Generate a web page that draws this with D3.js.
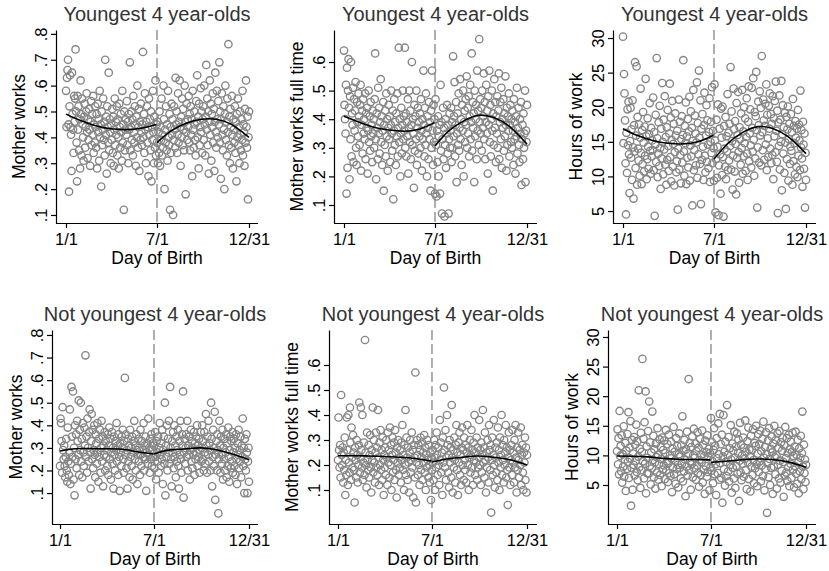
<!DOCTYPE html>
<html>
<head>
<meta charset="utf-8">
<script src="https://cdn.jsdelivr.net/npm/d3@7"></script>
<style>
body{margin:0;background:#fff;}
svg text{font-family:"Liberation Sans",Arial,sans-serif;}
</style>
</head>
<body>
<div id="viz"></div>
<script>
// x axis: day of birth (1 = Jan 1, 365 = Dec 31), cutoff at Jul 1
var xTickDays = [1, 182, 365];
var xTickLabels = ["1/1", "7/1", "12/31"];
var cutoffDay = 182;

var titles = ["Youngest 4 year-olds", "Youngest 4 year-olds", "Youngest 4 year-olds",
	"Not youngest 4 year-olds", "Not youngest 4 year-olds", "Not youngest 4 year-olds"];
var yTitles = ["Mother works", "Mother works full time", "Hours of work",
	"Mother works", "Mother works full time", "Hours of work"];
var yTicksWorks = [0.1, 0.2, 0.3, 0.4, 0.5, 0.6, 0.7, 0.8];
var yTicksFull = [0.1, 0.2, 0.3, 0.4, 0.5, 0.6];
var yTicksHours = [5, 10, 15, 20, 25, 30];

// daily means, Jan..Dec, one row per month (percent)
var youngWorks = [
58,44,63,66,70,45,19,52,64,44,41,27,65,49,43,34,56,46,55,74,50,38,23,56,43,52,35,47,28,62,49,
33,55,45,40,31,48,53,36,44,50,57,42,32,47,39,51,43,29,46,54,37,49,41,56,34,45,38,52,
44,36,49,28,53,42,47,31,58,40,45,21,50,37,43,55,39,46,33,70,41,48,26,52,44,38,65,35,47,42,30,
45,39,51,34,48,29,43,55,37,46,41,52,33,47,40,28,53,44,36,49,42,31,58,38,45,12,50,35,43,47,
41,54,37,46,30,49,43,69,35,44,50,39,47,33,56,42,38,52,45,29,48,40,60,36,44,51,27,46,39,53,42,
37,45,73,40,49,34,57,43,30,46,52,38,44,25,55,41,47,35,50,23,44,39,58,42,30,48,36,62,33,45,
38,46,30,42,34,50,29,44,39,55,33,41,36,60,47,20,43,38,52,35,45,31,58,40,37,49,12,44,34,53,41,
47,10,39,52,43,36,63,45,50,34,41,57,38,46,62,44,29,48,40,55,37,51,43,35,60,46,18,42,53,39,47,
44,56,38,49,35,52,41,47,25,58,43,36,50,45,39,33,54,46,64,40,48,28,53,37,44,59,42,50,34,47,
52,39,60,45,33,48,68,43,55,37,50,26,46,62,41,53,31,49,44,57,38,51,27,46,65,42,36,58,47,40,54,
45,69,38,50,24,47,57,41,35,52,43,20,49,60,39,46,33,55,42,76,37,48,30,51,44,36,56,41,28,47,
43,38,52,34,46,23,49,40,55,37,44,30,50,41,35,47,39,58,33,45,42,29,51,38,62,44,36,48,16,40,50
];
var youngFull = [
64,45,40,35,52,14,58,23,50,61,44,19,48,33,60,27,42,38,51,25,47,36,43,53,30,24,46,39,34,49,41,
31,45,52,22,38,43,28,47,35,40,33,49,26,42,37,44,21,36,50,32,41,29,46,34,38,25,43,35,
40,30,47,63,33,19,42,37,26,51,35,44,28,39,54,32,41,24,36,46,15,38,31,43,27,49,34,40,22,37,45,
33,41,25,38,50,35,29,43,12,36,47,31,39,24,42,34,49,27,37,65,32,40,20,35,44,28,38,50,33,41,
36,65,30,42,27,39,34,47,21,37,50,32,43,26,38,60,31,40,35,16,45,29,41,33,50,24,37,44,28,39,34,
42,30,47,36,22,40,33,57,38,27,44,31,49,35,20,41,37,26,46,33,39,15,43,30,57,36,24,45,32,40,
14,47,31,13,36,25,41,20,34,38,14,52,29,39,7,33,44,26,37,6,31,40,23,35,45,28,38,7,33,42,30,
36,44,25,39,30,62,34,41,53,27,38,46,18,35,42,31,49,29,37,54,33,40,24,45,36,50,20,39,43,32,47,
38,55,30,44,35,48,27,41,52,33,39,63,29,46,37,42,18,50,34,40,45,26,57,36,43,31,68,39,47,35,
44,29,50,37,41,56,33,46,26,39,52,35,43,21,48,38,57,32,45,27,40,50,36,15,42,31,54,37,46,25,41,
35,48,30,43,56,26,39,46,33,51,23,40,37,47,29,42,34,55,38,22,44,31,41,36,49,27,38,45,32,40,
30,43,36,24,47,33,39,21,41,34,51,28,37,44,31,25,40,35,46,17,33,38,26,42,30,35,50,18,36,32,45
];
// hours per week
var youngHours = [
30.2,14.8,24.8,22.0,18.1,11.9,4.5,16.3,10.5,19.7,14.5,20.8,13.2,7.6,15.1,19.9,12.7,16.8,9.5,21.0,14.2,6.8,17.4,13.6,26.5,11.2,15.9,25.9,8.8,18.6,14.0,
12.3,17.5,10.1,15.6,22.7,13.4,8.9,16.7,11.8,19.3,14.9,10.7,17.2,13.0,24.1,15.8,9.6,12.5,18.4,14.3,11.1,16.1,20.6,13.7,10.4,17.0,12.9,15.2,
13.8,21.4,10.9,16.4,4.3,14.6,18.9,12.1,27.1,15.5,9.9,13.3,17.8,11.5,20.2,14.1,8.2,16.9,12.6,23.5,15.0,10.3,18.2,13.9,21.6,11.7,15.7,8.8,17.1,12.4,19.6,
14.4,10.8,16.2,23.4,12.8,18.5,9.3,15.3,20.9,11.4,14.7,17.6,8.7,13.5,19.1,15.9,10.6,12.2,16.6,5.2,14.0,21.1,11.0,17.9,13.1,9.0,15.4,18.7,12.0,16.0,
26.8,13.6,10.1,17.3,14.8,20.7,8.9,15.8,12.7,18.3,11.3,16.5,21.5,9.4,14.5,19.4,12.9,17.0,5.8,15.1,22.5,10.9,13.8,18.8,16.2,11.6,14.9,23.6,9.8,17.7,13.2,
25.3,15.6,11.8,21.0,6.0,16.9,12.4,19.0,14.3,9.5,17.4,22.1,13.0,10.6,15.9,20.3,12.1,18.1,14.6,11.2,16.4,21.3,9.2,15.0,17.9,13.4,22.9,11.9,16.6,14.1,
9.4,23.3,15.2,4.8,12.5,18.2,9.8,14.3,20.4,4.4,11.6,16.9,13.2,7.5,19.8,15.6,10.2,20.1,12.8,4.2,17.3,14.0,11.4,18.6,9.6,15.8,13.6,21.9,10.9,16.3,12.3,
17.6,14.4,25.8,11.0,19.4,15.1,8.1,13.0,22.7,16.8,10.7,18.0,14.7,7.4,20.6,12.7,16.0,22.2,13.5,9.1,17.1,15.4,11.7,19.1,14.1,22.5,10.4,16.5,12.9,20.0,14.8,
18.4,10.8,15.7,21.3,13.3,9.5,17.9,23.0,12.2,16.2,19.7,14.5,11.3,22.8,17.0,13.6,24.2,15.3,10.1,19.3,12.6,18.7,25.1,16.7,5.5,14.2,20.8,17.4,12.0,22.3,
15.9,19.9,11.6,27.4,16.4,13.8,21.1,18.1,12.4,17.3,20.5,14.6,23.3,10.9,18.9,15.5,12.8,20.2,16.9,22.0,14.0,19.0,11.9,17.6,13.1,21.6,9.6,18.4,15.8,20.9,13.5,
23.7,16.6,12.1,19.5,4.7,17.8,14.4,21.7,11.0,18.2,15.0,23.8,8.0,16.1,20.3,13.3,17.1,10.5,19.2,14.9,5.3,18.6,12.5,16.8,20.1,9.4,15.4,17.6,11.8,14.3,
19.0,13.7,16.4,8.8,21.2,12.2,17.3,14.8,10.3,18.0,15.6,11.4,16.9,9.9,19.6,13.0,17.5,15.2,10.9,22.4,14.2,16.7,12.6,8.5,17.9,14.6,11.1,16.2,5.5,13.4,9.5
];
var olderWorks = [
22,43,41,33,19,48,29,25,31,22,17,26,34,20,15,39,24,18,28,47,14,23,57,35,26,55,16,30,9,40,25,
36,21,42,33,27,51,18,38,29,50,24,34,17,41,28,22,39,31,71,26,35,19,43,30,24,37,47,28,
12,33,45,25,38,21,29,40,27,17,36,32,23,41,28,15,34,26,38,19,30,42,24,35,13,31,27,37,20,33,26,
29,22,36,18,31,39,25,34,16,28,37,23,30,12,35,27,20,33,29,41,24,31,18,36,26,11,32,28,22,35,
30,38,25,19,33,61,27,36,21,29,12,34,24,31,17,38,26,30,22,35,16,28,33,42,25,31,20,36,29,14,27,
34,24,30,18,38,27,22,33,29,26,41,20,31,25,35,11,28,32,23,43,27,30,19,34,25,36,22,29,32,26,
31,21,37,26,16,33,28,24,35,19,30,41,27,22,32,25,38,14,29,35,23,50,9,31,26,40,20,34,28,42,23,
57,30,25,13,33,28,37,21,40,26,31,17,35,24,29,38,22,12,33,27,42,25,19,36,31,55,8,28,34,23,30,
36,26,42,20,31,27,35,16,29,38,24,33,21,30,27,37,18,32,25,35,28,40,22,31,26,34,19,29,37,24,
30,40,25,33,20,37,28,23,45,31,19,35,27,42,24,32,29,20,50,34,13,26,38,22,30,46,7,27,33,20,36,
29,1,25,42,31,19,35,27,23,38,16,30,25,34,20,28,36,17,32,22,39,26,15,29,35,21,33,24,37,19,
28,34,22,30,18,36,25,14,32,27,38,21,29,24,35,17,31,26,43,22,30,10,34,25,20,36,28,10,24,30,15
];
var olderFull = [
22,39,26,19,28,15,48,24,20,27,13,25,18,31,8,22,16,39,26,12,40,21,17,43,29,14,35,23,19,32,25,
18,5,27,22,15,30,24,13,20,28,45,17,23,43,26,19,40,14,21,29,16,70,25,20,11,33,22,18,
28,15,24,32,19,9,26,22,43,17,30,21,13,25,33,19,27,16,42,23,12,29,20,34,18,26,14,31,22,8,24,
19,27,16,30,23,12,33,21,26,15,35,20,28,10,24,31,17,22,29,14,34,25,18,7,27,21,30,16,23,19,
26,13,29,22,36,18,24,10,28,20,42,16,31,23,14,27,21,9,25,30,17,22,33,19,26,7,28,23,15,57,5,
21,30,24,16,28,20,12,26,31,18,23,29,14,25,21,32,17,27,10,24,19,30,22,15,28,20,13,25,6,23,
18,26,21,14,30,23,10,28,19,33,24,16,27,20,12,38,22,29,17,25,8,31,21,51,26,19,34,14,23,40,28,
17,24,11,30,21,27,15,44,23,9,26,19,31,22,13,28,36,18,25,8,29,21,33,16,24,12,27,35,20,26,14,
31,22,18,28,13,25,36,20,27,10,23,30,17,24,34,19,26,12,29,22,40,16,25,21,31,14,27,19,23,38,
20,26,12,29,17,24,42,21,27,15,33,22,9,25,19,30,23,13,36,26,18,28,1,22,31,16,24,38,20,11,27,
23,17,29,14,35,21,26,10,31,19,24,40,16,28,22,13,30,20,25,36,15,27,18,4,23,33,19,26,12,22,
28,16,34,21,25,13,30,19,36,23,9,27,18,33,22,15,26,20,35,12,24,28,17,10,25,21,31,14,27,9,24
];
var olderHours = [
10.7,14.4,8.5,12.9,6.8,17.5,9.9,11.6,7.3,13.4,5.4,10.2,8.1,14.9,6.4,9.3,12.1,4.0,10.8,7.7,13.6,8.9,17.3,6.2,11.3,9.5,15.8,1.5,7.9,12.6,4.2,
10.3,8.4,13.1,6.6,11.8,9.1,15.2,7.2,12.4,5.8,9.8,21.0,8.0,11.1,4.5,13.8,7.5,10.6,26.3,9.0,12.8,6.1,15.6,8.6,20.8,3.6,11.5,7.0,
9.6,14.1,6.9,19.1,8.2,12.2,5.1,10.5,7.8,17.4,9.2,13.3,6.3,11.0,8.8,4.4,12.0,9.7,7.1,14.6,10.1,5.9,8.5,12.7,6.7,11.4,9.4,4.8,13.0,7.6,10.9,
8.3,12.5,6.0,10.4,14.3,7.4,9.0,11.9,5.5,8.7,13.5,7.0,10.0,6.5,12.3,9.5,3.8,11.2,8.0,14.8,6.8,10.6,9.1,5.2,12.9,7.7,11.6,8.4,4.6,10.2,
13.7,7.9,9.8,6.1,11.7,8.6,16.6,5.6,10.8,7.3,12.6,9.3,3.1,11.0,8.1,14.0,6.6,10.3,22.9,7.5,12.1,9.0,4.2,11.4,8.5,13.2,6.3,10.0,14.5,7.8,9.6,
12.0,5.9,10.7,8.3,13.9,7.0,11.3,4.7,9.2,12.8,6.7,10.1,8.8,14.2,5.4,11.8,7.6,9.9,3.5,12.5,8.2,10.5,6.4,13.4,7.2,9.7,11.1,4.1,10.4,8.0,
16.3,7.4,12.2,9.0,5.3,10.9,14.6,6.8,11.6,8.5,3.3,12.9,9.5,7.0,15.4,10.2,5.9,17.0,8.7,11.9,6.2,13.5,2.0,9.8,16.8,7.7,10.6,4.9,12.3,8.9,6.5,
18.5,10.1,7.3,13.1,5.6,11.2,8.4,15.1,9.3,3.7,12.0,7.9,10.8,6.1,14.0,9.6,4.5,11.5,8.2,13.7,6.9,10.4,12.7,2.3,9.1,15.5,7.1,11.8,5.8,10.0,8.6,
13.0,6.4,11.3,9.4,15.9,7.5,10.6,4.3,12.4,8.8,14.7,6.0,11.0,9.8,3.9,13.3,8.1,10.9,6.7,14.4,9.2,5.3,12.1,7.8,11.6,15.0,8.5,4.8,10.3,13.6,
7.2,11.9,9.0,14.2,5.6,10.7,8.3,12.8,6.5,15.7,9.6,4.1,11.4,7.7,13.9,10.2,0.3,8.7,12.5,6.3,14.6,9.4,5.0,11.1,7.9,13.2,10.5,3.5,12.0,8.1,15.0,
9.7,6.8,12.6,10.0,4.4,13.7,8.4,11.3,6.1,14.1,9.1,5.4,12.2,7.4,10.8,13.0,8.9,3.0,11.7,6.6,14.8,9.5,7.1,12.9,5.7,10.4,8.0,13.5,4.8,11.0,
8.6,12.3,6.2,10.6,13.8,7.6,9.9,4.6,11.5,8.2,14.0,6.9,10.1,5.2,12.6,8.8,3.6,11.2,7.3,9.6,13.3,6.0,10.4,17.4,8.1,4.3,11.8,7.0,9.3,5.5,8.4
];

// fitted lines, separate on each side of the cutoff
var fitDaysL = [1, 30, 60, 90, 120, 150, 181];
var fitDaysR = [182, 210, 240, 270, 300, 330, 365];
var youngWorksFitL = [0.49, 0.465, 0.445, 0.433, 0.43, 0.435, 0.45];
var youngWorksFitR = [0.38, 0.425, 0.455, 0.47, 0.47, 0.45, 0.40];
var youngFullFitL = [0.41, 0.39, 0.372, 0.362, 0.358, 0.365, 0.388];
var youngFullFitR = [0.307, 0.36, 0.395, 0.414, 0.405, 0.375, 0.313];
var youngHoursFitL = [16.9, 15.9, 15.2, 14.8, 14.7, 15.0, 15.95];
var youngHoursFitR = [12.5, 14.8, 16.4, 17.2, 16.9, 15.7, 13.3];
var olderWorksFitL = [0.286, 0.296, 0.297, 0.296, 0.294, 0.283, 0.273];
var olderWorksFitR = [0.273, 0.29, 0.295, 0.30, 0.293, 0.275, 0.248];
var olderFullFitL = [0.237, 0.237, 0.236, 0.234, 0.231, 0.226, 0.216];
var olderFullFitR = [0.212, 0.224, 0.231, 0.236, 0.231, 0.222, 0.200];
var olderHoursFitL = [9.9, 9.85, 9.75, 9.5, 9.35, 9.3, 9.25];
var olderHoursFitR = [8.8, 9.0, 9.25, 9.4, 9.3, 8.9, 8.0];

function pct(v){ return v / 100; }

var series = [youngWorks.map(pct), youngFull.map(pct), youngHours,
	olderWorks.map(pct), olderFull.map(pct), olderHours];
var fitsL = [youngWorksFitL, youngFullFitL, youngHoursFitL, olderWorksFitL, olderFullFitL, olderHoursFitL];
var fitsR = [youngWorksFitR, youngFullFitR, youngHoursFitR, olderWorksFitR, olderFullFitR, olderHoursFitR];
var yTicks = [yTicksWorks, yTicksFull, yTicksHours, yTicksWorks, yTicksFull, yTicksHours];

// panel geometry (pixels)
var layout = [
	{ax:56,  right:258, d1:66,  d365:249, top:30,  bot:223, dom:[0.069, 0.815], ytx:25},
	{ax:334, right:537, d1:344, d365:527, top:30,  bot:223, dom:[0.037, 0.712], ytx:303},
	{ax:613, right:816, d1:623, d365:806, top:30,  bot:223, dom:[3.27, 31.16],  ytx:582},
	{ax:52,  right:258, d1:60,  d365:249, top:330, bot:524, dom:[-0.037, 0.822], ytx:22},
	{ax:329, right:537, d1:338, d365:527, top:330, bot:524, dom:[-0.036, 0.74], ytx:298},
	{ax:608, right:816, d1:617, d365:806, top:330, bot:524, dom:[-1.59, 31.18], ytx:578}
];

var svg = d3.select("#viz")
	.append("svg")
	.attr("width", 829)
	.attr("height", 571);

function tickText(v){
	return String(v).replace(/^0\./, ".");
}

layout.forEach(function(L, k){
	var g = svg.append("g");
	var x = d3.scaleLinear().domain([1, 365]).range([L.d1, L.d365]);
	var y = d3.scaleLinear().domain(L.dom).range([L.bot, L.top]);

	// scatter
	g.append("g").selectAll("circle")
		.data(series[k])
		.enter()
		.append("circle")
		.attr("cx", function(d, i){ return x(i + 1); })
		.attr("cy", function(d){ return y(d); })
		.attr("r", 3.7)
		.attr("fill", "none")
		.attr("stroke", "#858585")
		.attr("stroke-width", 1.35);

	// cutoff line
	g.append("line")
		.attr("x1", x(cutoffDay)).attr("x2", x(cutoffDay))
		.attr("y1", L.top).attr("y2", L.bot)
		.attr("stroke", "#858585")
		.attr("stroke-width", 1.3)
		.attr("stroke-dasharray", "10,4");

	// fits
	var line = d3.line()
		.x(function(d){ return x(d[0]); })
		.y(function(d){ return y(d[1]); })
		.curve(d3.curveNatural);
	[[fitDaysL, fitsL[k]], [fitDaysR, fitsR[k]]].forEach(function(f){
		g.append("path")
			.datum(d3.zip(f[0], f[1]))
			.attr("d", line)
			.attr("fill", "none")
			.attr("stroke", "#000")
			.attr("stroke-width", 1.6);
	});

	// x axis
	var gx = g.append("g")
		.attr("transform", "translate(0," + L.bot + ")")
		.call(d3.axisBottom(x)
			.tickValues(xTickDays)
			.tickFormat(function(d, i){ return xTickLabels[i]; })
			.tickSize(5)
			.tickSizeOuter(0));
	gx.select(".domain").remove();
	gx.append("line")
		.attr("x1", L.ax).attr("x2", L.right)
		.attr("y1", 0.5).attr("y2", 0.5)
		.attr("stroke", "#000").attr("stroke-width", 1.2);
	gx.selectAll(".tick line").attr("stroke-width", 1.2);
	gx.selectAll(".tick text")
		.attr("y", 22).attr("dy", 0)
		.attr("font-size", 16.5)
		.attr("font-family", "Liberation Sans, Arial, sans-serif")
		.attr("fill", "#000");

	// y axis
	var gy = g.append("g")
		.attr("transform", "translate(" + L.ax + ",0)")
		.call(d3.axisLeft(y)
			.tickValues(yTicks[k])
			.tickFormat(tickText)
			.tickSize(5)
			.tickSizeOuter(0));
	gy.select(".domain").attr("stroke-width", 1.2);
	gy.selectAll(".tick line").attr("stroke-width", 1.2);
	gy.selectAll(".tick text")
		.attr("transform", "rotate(-90)")
		.attr("x", 0).attr("y", -9).attr("dy", 0)
		.attr("text-anchor", "middle")
		.attr("font-size", 16.5)
		.attr("font-family", "Liberation Sans, Arial, sans-serif")
		.attr("fill", "#000");

	// titles
	g.append("text")
		.attr("x", (L.ax + L.right) / 2)
		.attr("y", L.top - 9)
		.attr("text-anchor", "middle")
		.attr("font-size", 20)
		.attr("fill", "#333")
		.text(titles[k]);
	g.append("text")
		.attr("x", (L.ax + L.right) / 2)
		.attr("y", L.bot + 41)
		.attr("text-anchor", "middle")
		.attr("font-size", 17.5)
		.attr("fill", "#000")
		.text("Day of Birth");
	g.append("text")
		.attr("transform", "translate(" + L.ytx + "," + ((L.top + L.bot) / 2) + ") rotate(-90)")
		.attr("text-anchor", "middle")
		.attr("font-size", 17.5)
		.attr("fill", "#000")
		.text(yTitles[k]);
});
</script>
</body>
</html>
